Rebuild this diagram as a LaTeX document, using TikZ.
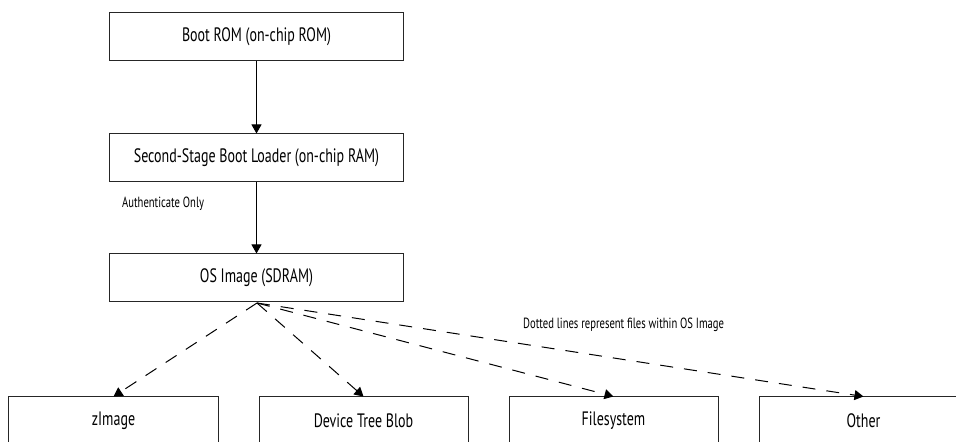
\documentclass[tikz,border=0pt]{standalone}
\usepackage{fontspec}
\setmainfont[FakeStretch=0.72]{PT Sans}
\usetikzlibrary{arrows.meta}
\begin{document}
\begin{tikzpicture}[x=1bp,y=-1bp,
  box/.style={draw=black!85,line width=1bp,minimum width=293bp,minimum height=48bp,inner sep=0pt,font=\fontsize{19.5}{21}\selectfont},
  sbox/.style={draw=black!85,line width=1bp,minimum width=209bp,minimum height=48bp,inner sep=0pt,font=\fontsize{19.5}{21}\selectfont},
  arr/.style={line width=1bp,-{Triangle[width=10bp,length=9bp]}},
  darr/.style={line width=1bp,dash pattern=on 13bp off 11bp,-{Triangle[width=10bp,length=9bp]}},
  lbl/.style={font=\fontsize{14.8}{16}\selectfont,inner sep=0pt}]
\useasboundingbox (0,0) rectangle (956,442);
\clip (0,0) rectangle (956,442);
\node[box] (rom) at (256.5,36.5) {Boot ROM (on-chip ROM)};
\node[box] (ssbl) at (256.5,158) {Second-Stage Boot Loader (on-chip RAM)};
\node[box] (os) at (256.5,278) {OS Image (SDRAM)};
\node[sbox] (zimg) at (113.5,421) {zImage};
\node[sbox] (dtb) at (363.5,421) {Device Tree Blob};
\node[sbox] (fs) at (613.5,421) {Filesystem};
\node[sbox] (oth) at (863.5,421) {Other};
\node[lbl,anchor=west] (auth) at (122,204) {Authenticate Only};
\node[lbl,anchor=west] (note) at (523,325) {Dotted lines represent files within OS Image};
\coordinate (src) at (257,303);
\draw[arr] (rom.south) -- (ssbl.north);
\draw[arr] (ssbl.south) -- (os.north);
\draw[darr] (src) -- (zimg.north);
\draw[darr] (src) -- (dtb.north);
\draw[darr] (src) -- (fs.north);
\draw[darr] (src) -- (oth.north);
\end{tikzpicture}
\end{document}
